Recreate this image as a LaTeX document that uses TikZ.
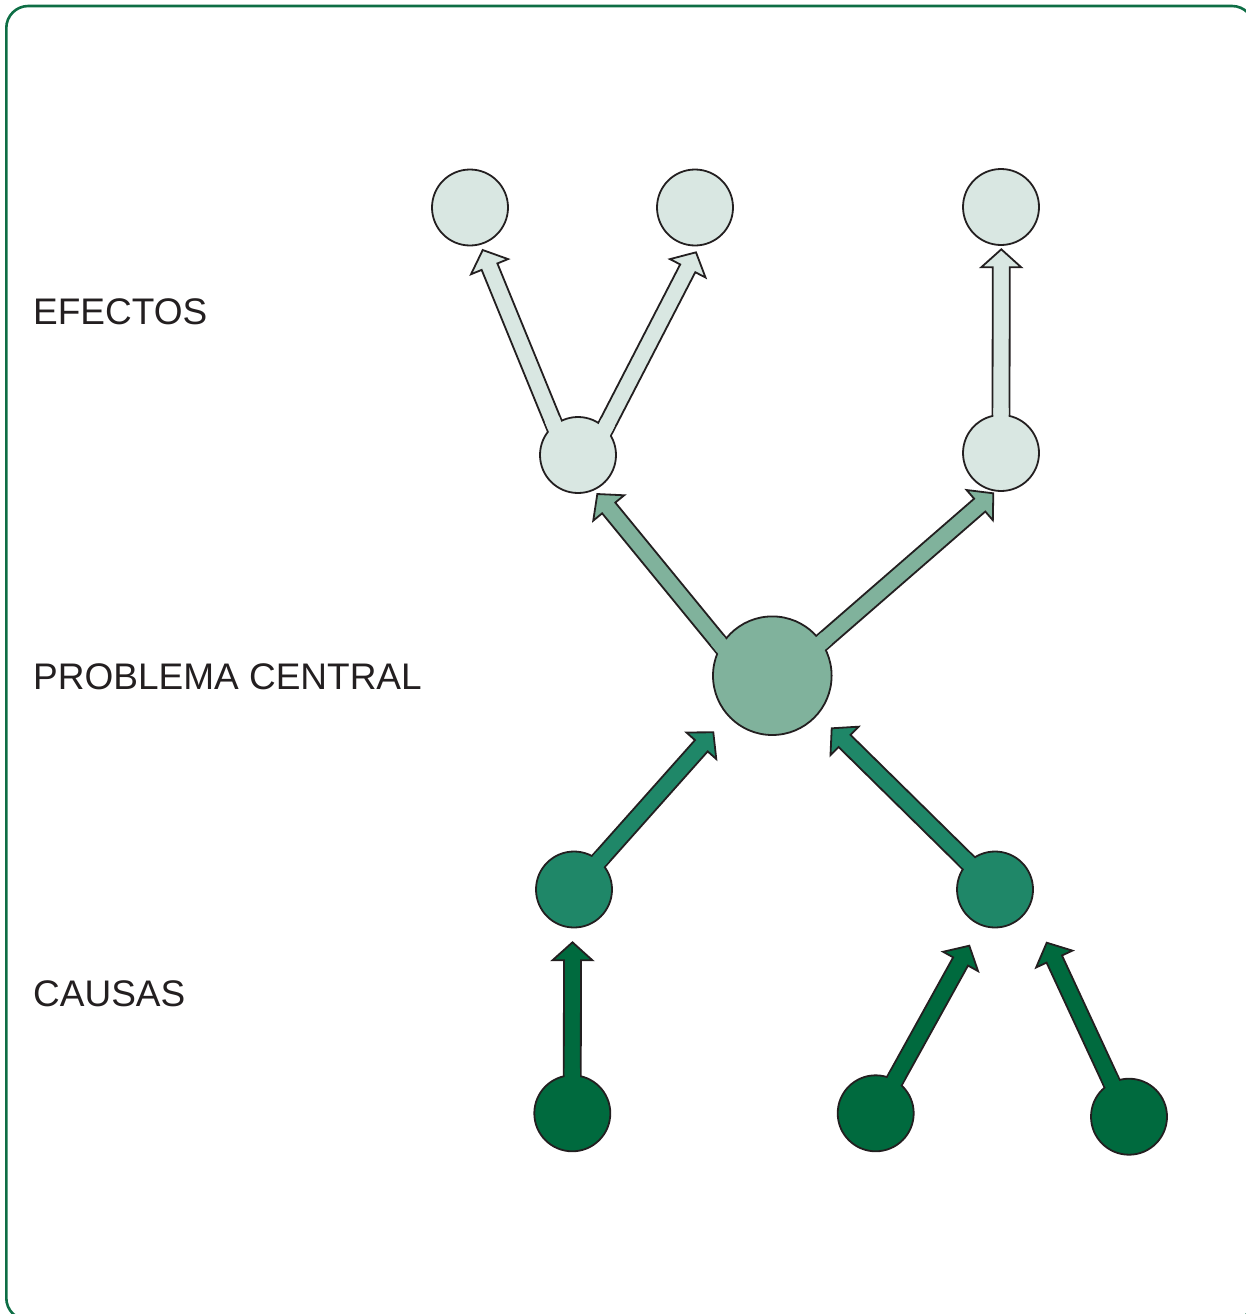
\documentclass[tikz,border=0pt]{standalone}
\usepackage{fontspec}
\setmainfont{Liberation Sans}
\usetikzlibrary{calc}
\pgfdeclarelayer{bg}
\pgfdeclarelayer{fg}
\pgfsetlayers{bg,main,fg}
\definecolor{lightc}{HTML}{D9E7E2}
\definecolor{midc}{HTML}{80B29C}
\definecolor{causec}{HTML}{1F8768}
\definecolor{rootc}{HTML}{006A3E}
\definecolor{framec}{HTML}{0E6E45}
\definecolor{inkc}{HTML}{231F20}
\tikzset{
  bubble/.style={circle, draw=inkc, line width=1.8pt, inner sep=0pt, minimum size=76pt},
  bigbubble/.style={bubble, minimum size=118.6pt},
  outl/.style={draw=inkc, line width=1.8pt, line join=miter},
  lbl/.style={anchor=base west, inner sep=0pt, text=inkc, font=\fontsize{37}{44}\selectfont},
}
% #1 source node, #2 border angle where the shaft leaves it, #3 tip coordinate, #4 colour
\newcommand\blockarrow[4]{%
  \path let \p1=($(#3)-(#1.#2)$) in \pgfextra{%
    \pgfmathsetmacro\baang{atan2(\y1,\x1)}\xdef\arrang{\baang}%
    \pgfmathsetmacro\balen{veclen(\x1,\y1)}\xdef\arrlen{\balen}};
  \pgfmathsetmacro\arrbase{\arrlen-18}%
  \begin{pgfonlayer}{bg}
  \begin{scope}[shift={(#1.#2)}, rotate=\arrang]
    \filldraw[outl, fill=#4] (-14pt,-8.5pt) -- (\arrbase pt,-8.5pt) -- (\arrbase pt,-20pt)
      -- (\arrlen pt,0pt) -- (\arrbase pt,20pt) -- (\arrbase pt,8.5pt) -- (-14pt,8.5pt) -- cycle;
  \end{scope}
  \end{pgfonlayer}
  \begin{pgfonlayer}{fg}
  \begin{scope}[shift={(#1.#2)}, rotate=\arrang]
    \fill[#4] (-10pt,-7.6pt) rectangle (6pt,7.6pt);
  \end{scope}
  \end{pgfonlayer}
}
\begin{document}
\begin{tikzpicture}[x=1pt,y=-1pt]
\useasboundingbox (0,0) rectangle (1246,1314);
\draw[framec, line width=2.6pt, rounded corners=22pt] (6.3,6) rectangle (1254,1320);

% labels
\node[lbl] (lef) at (33,324.5) {EFECTOS};
\node[lbl] (lpc) at (33,689.5) {PROBLEMA CENTRAL};
\node[lbl] (lca) at (33,1006.5) {CAUSAS};

% effects
\node[bubble, fill=lightc] (e1) at (470,207.5) {};
\node[bubble, fill=lightc] (e2) at (695,207.5) {};
\node[bubble, fill=lightc] (e3) at (1001,207) {};
\node[bubble, fill=lightc] (m1) at (578,455) {};
\node[bubble, fill=lightc] (m2) at (1001,453) {};
% central problem
\node[bigbubble, fill=midc] (pc) at (772.3,675.7) {};
% causes
\node[bubble, fill=causec] (c1) at (574,889.5) {};
\node[bubble, fill=causec] (c2) at (995,889.5) {};
\node[bubble, fill=rootc] (b1) at (572.3,1113.3) {};
\node[bubble, fill=rootc] (b2) at (875.7,1113.3) {};
\node[bubble, fill=rootc] (b3) at (1129,1116.7) {};

% arrow tips
\coordinate (tm1e1) at (482.7,250);
\coordinate (tm1e2) at (696,252.3);
\coordinate (tm2e3) at (1001.3,249.3);
\coordinate (tpcm1) at (597.3,494);
\coordinate (tpcm2) at (993.3,493.3);
\coordinate (tc1pc) at (713.3,732.3);
\coordinate (tc2pc) at (831.7,728.3);
\coordinate (tb1c1) at (572.5,942.3);
\coordinate (tb2c2) at (969.3,945.7);
\coordinate (tb3c2) at (1046.7,942.7);

\blockarrow{m1}{128}{tm1e1}{lightc}
\blockarrow{m1}{45}{tm1e2}{lightc}
\blockarrow{m2}{90}{tm2e3}{lightc}
\blockarrow{pc}{149}{tpcm1}{midc}
\blockarrow{pc}{34}{tpcm2}{midc}
\blockarrow{c1}{49}{tc1pc}{causec}
\blockarrow{c2}{135}{tc2pc}{causec}
\blockarrow{b1}{90}{tb1c1}{rootc}
\blockarrow{b2}{60}{tb2c2}{rootc}
\blockarrow{b3}{117}{tb3c2}{rootc}
\end{tikzpicture}
\end{document}
